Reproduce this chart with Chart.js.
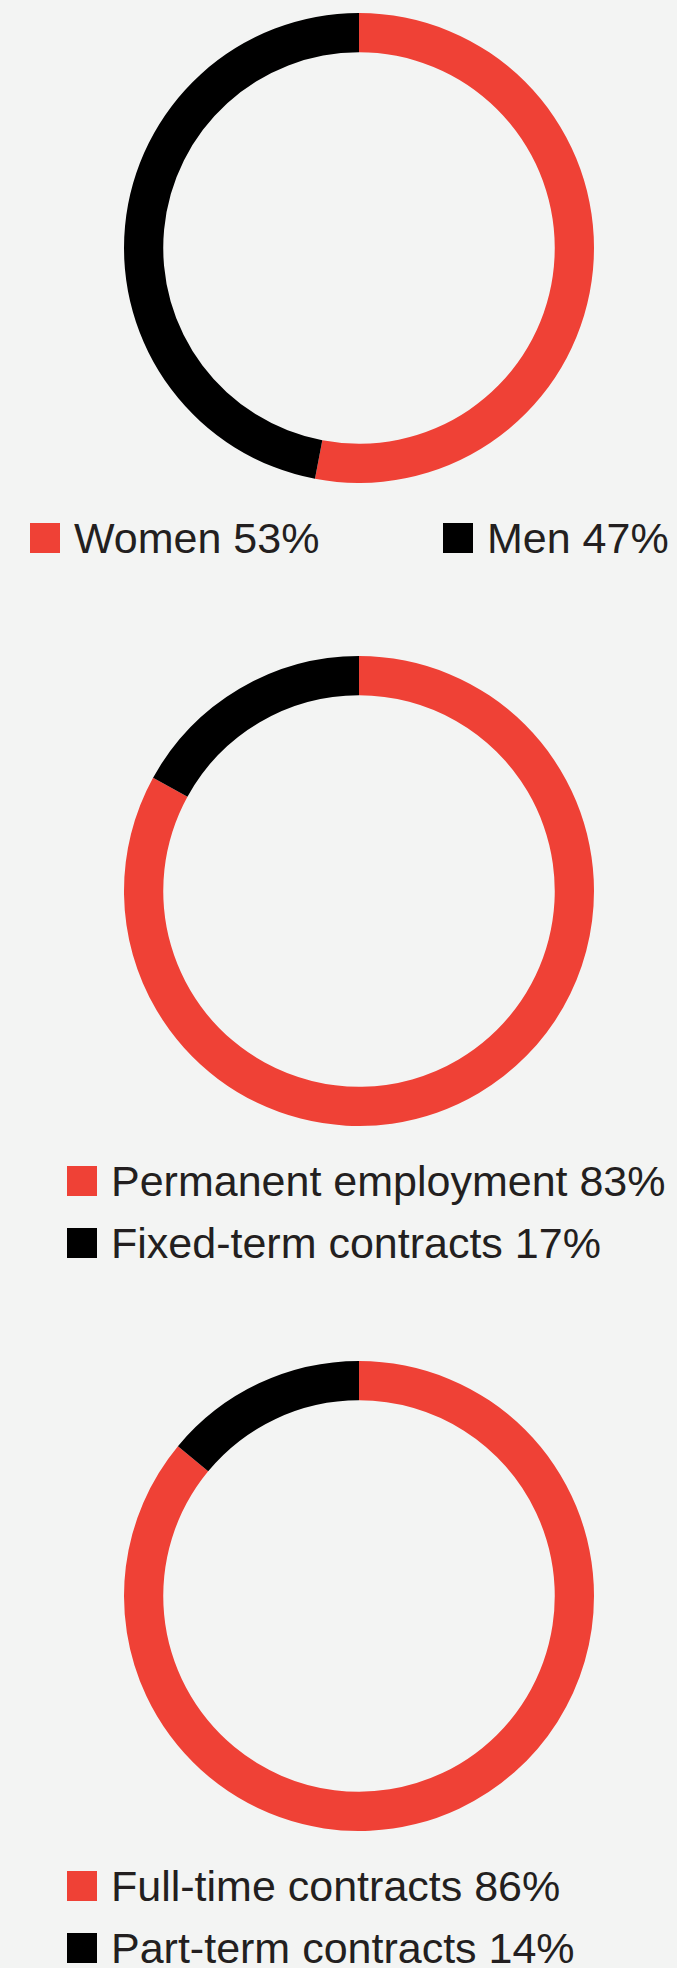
<!DOCTYPE html>
<html>
<head>
<meta charset="utf-8">
<script src="https://cdn.jsdelivr.net/npm/chart.js@4"></script>
<style>
  body {
    margin: 0;
    width: 677px;
    height: 1968px;
    position: relative;
    overflow: hidden;
    background: #f3f4f3;
    font-family: "Liberation Sans", Arial, sans-serif;
  }
  canvas { position: absolute; left: 0; }
  .swatch { position: absolute; width: 30px; height: 30px; }
  .key {
    position: absolute;
    font-size: 43px;
    line-height: 43px;
    color: #231f20;
    white-space: nowrap;
  }
</style>
</head>
<body>
<canvas id="gender" width="677" height="470" style="top:12.5px"></canvas>
<canvas id="employment" width="677" height="470" style="top:655.5px"></canvas>
<canvas id="hours" width="677" height="470" style="top:1360.5px"></canvas>

<script>
const genderLabels = ['Women', 'Men'];
const genderValues = [53, 47];

const employmentLabels = ['Permanent employment', 'Fixed-term contracts'];
const employmentValues = [83, 17];

const hoursLabels = ['Full-time contracts', 'Part-term contracts'];
const hoursValues = [86, 14];

const sliceColors = ['#ef4136', '#000000'];

// where each legend entry sits: left edge of the square and the text baseline
const legendSpots = {
    gender: [[30, 553], [443, 553]],
    employment: [[67, 1196], [67, 1258]],
    hours: [[67, 1901], [67, 1963]]
};

function drawRing(id, labels, values) {
    const ctx = document.getElementById(id).getContext('2d');
    new Chart(ctx, {
        type: 'doughnut',
        data: {
            labels: labels,
            datasets: [{
                data: values,
                backgroundColor: sliceColors,
                borderWidth: 0,
                hoverOffset: 0
            }]
        },
        options: {
            responsive: false,
            animation: false,
            cutout: '83.3%',
            layout: { padding: { left: 41 } },
            plugins: {
                legend: { display: false },
                tooltip: { enabled: false }
            }
        }
    });

    // legend under each ring: square + "Label NN%"
    labels.forEach((label, i) => {
        const [x, baseline] = legendSpots[id][i];
        const sq = document.createElement('div');
        sq.className = 'swatch';
        sq.style.left = x + 'px';
        sq.style.top = (baseline - 30) + 'px';
        sq.style.background = sliceColors[i];
        document.body.appendChild(sq);

        const txt = document.createElement('div');
        txt.className = 'key';
        txt.textContent = `${label} ${values[i]}%`;
        txt.style.left = (x + 44) + 'px';
        txt.style.top = (baseline - 36.4) + 'px';
        document.body.appendChild(txt);
    });
}

drawRing('gender', genderLabels, genderValues);
drawRing('employment', employmentLabels, employmentValues);
drawRing('hours', hoursLabels, hoursValues);
</script>
</body>
</html>
